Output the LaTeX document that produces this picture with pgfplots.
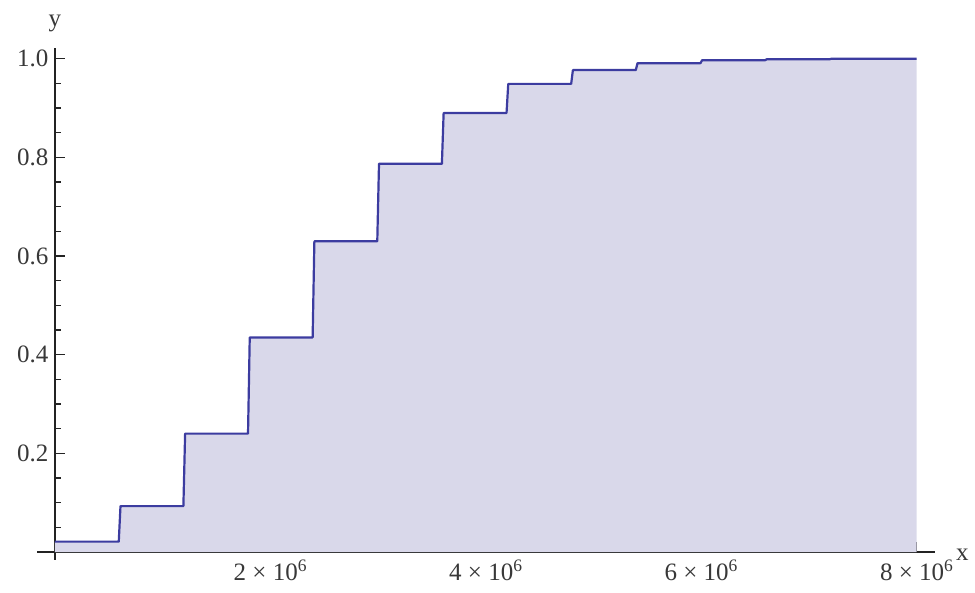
\documentclass[border=0pt]{standalone}
\usepackage{fontspec}
\setmainfont{Liberation Serif}
\usepackage{pgfplots}
\pgfplotsset{compat=1.18}
\definecolor{stepline}{RGB}{60,60,160}
\definecolor{stepfill}{RGB}{217,216,234}
\definecolor{axcol}{RGB}{35,35,35}
\begin{document}
\begin{tikzpicture}
\path[use as bounding box] (-55pt,-40pt) rectangle (920pt,552pt);
\begin{axis}[
  anchor=origin, at={(0pt,0pt)},
  scale only axis, width=898pt, height=512pt,
  xmin=-0.167e6, xmax=8.17e6, ymin=-0.016, ymax=1.022,
  axis lines=middle,
  axis line style={-, line width=1.3pt, color=axcol},
  xtick={2e6,4e6,6e6,8e6},
  xticklabels={{2 × 10\textsuperscript{6}},{4 × 10\textsuperscript{6}},{6 × 10\textsuperscript{6}},{8 × 10\textsuperscript{6}}},
  minor xtick={0.5e6,1e6,1.5e6,2.5e6,3e6,3.5e6,4.5e6,5e6,5.5e6,6.5e6,7e6,7.5e6},
  ytick={0.2,0.4,0.6,0.8,1.0},
  yticklabels={0.2,0.4,0.6,0.8,1.0},
  minor ytick={0.05,0.1,0.15,0.25,0.3,0.35,0.45,0.5,0.55,0.65,0.7,0.75,0.85,0.9,0.95},
  tick align=inside,
  major tick length=10pt, minor tick length=6pt,
  tick style={line width=1.2pt, color=axcol},
  ticklabel style={font=\fontsize{25}{29}\selectfont, color=black!78},
  yticklabel style={xshift=-3pt},
  xticklabel style={yshift=-4pt},
  scaled x ticks=false,
  xlabel={x}, ylabel={y},
  xlabel style={at={(axis cs:8.17e6,0)}, anchor=west, inner sep=0pt, xshift=21pt, yshift=-3pt, font=\fontsize{25}{29}\selectfont, color=black!78},
  ylabel style={at={(axis cs:0,1.022)}, anchor=base, inner sep=0pt, yshift=21pt, font=\fontsize{25}{29}\selectfont, color=black!78},
  clip=false,
]
\addplot[fill=stepfill, draw=none] coordinates {
(0,0.021) (0.592e6,0.021) (0.608e6,0.093) (1.192e6,0.093) (1.208e6,0.240) (1.792e6,0.240) (1.808e6,0.435) (2.392e6,0.435) (2.408e6,0.630) (2.992e6,0.630) (3.008e6,0.787) (3.592e6,0.787) (3.608e6,0.890) (4.192e6,0.890) (4.208e6,0.949) (4.792e6,0.949) (4.808e6,0.977) (5.392e6,0.977) (5.408e6,0.991) (5.992e6,0.991) (6.008e6,0.997) (6.592e6,0.997) (6.608e6,0.999) (7.192e6,0.999) (7.208e6,1.0) (8e6,1.0)
} \closedcycle;
\addplot[color=stepline, line width=2.2pt, line join=round] coordinates {
(0,0.021) (0.592e6,0.021) (0.608e6,0.093) (1.192e6,0.093) (1.208e6,0.240) (1.792e6,0.240) (1.808e6,0.435) (2.392e6,0.435) (2.408e6,0.630) (2.992e6,0.630) (3.008e6,0.787) (3.592e6,0.787) (3.608e6,0.890) (4.192e6,0.890) (4.208e6,0.949) (4.792e6,0.949) (4.808e6,0.977) (5.392e6,0.977) (5.408e6,0.991) (5.992e6,0.991) (6.008e6,0.997) (6.592e6,0.997) (6.608e6,0.999) (7.192e6,0.999) (7.208e6,1.0) (8e6,1.0)
};
\end{axis}
\end{tikzpicture}
\end{document}
